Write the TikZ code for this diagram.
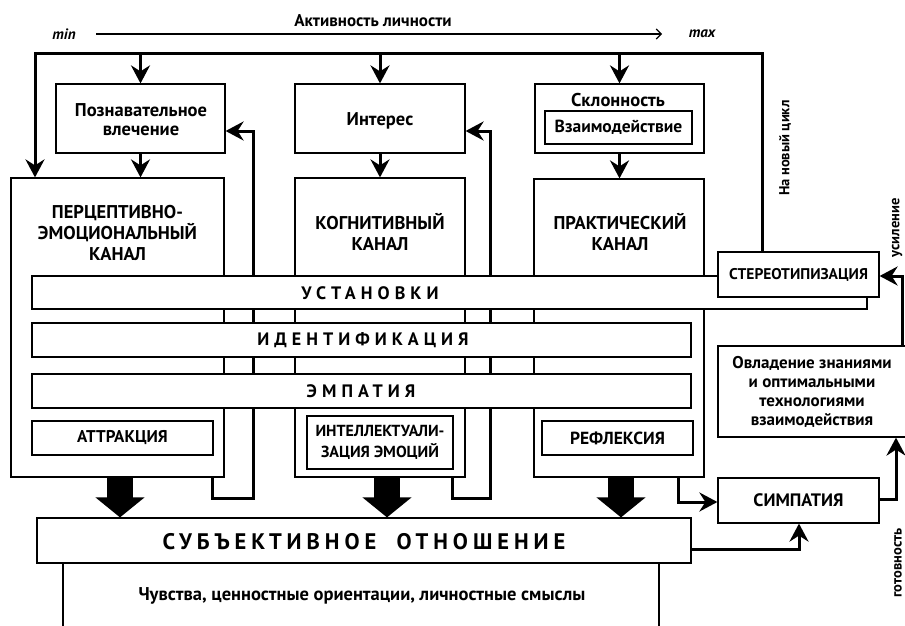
\documentclass[tikz,border=0pt]{standalone}
\usepackage{fontspec}
\setmainfont{PT Sans}
\newfontfamily\barfont[LetterSpace=28]{PT Sans}
\newfontfamily\subjfont[LetterSpace=22]{PT Sans}
\usetikzlibrary{arrows.meta}
\begin{document}
\begin{tikzpicture}[x=1pt,y=-1pt,
  boxs/.style={draw,line width=1.2pt,fill=white,inner sep=0pt,rectangle},
  thk/.style={line width=3pt},
  harr/.style={-{Stealth[length=18pt,width=19pt,inset=6pt]}},
  bigarr/.style={line width=26pt,-{Triangle[length=20pt,width=48pt]}},
  lbl/.style={inner sep=0pt,align=center,font=\bfseries\fontsize{18.5}{19}\selectfont},
  chan/.style={inner sep=0pt,align=center,font=\bfseries\fontsize{18.5}{21}\selectfont},
  barlbl/.style={inner sep=0pt,font=\barfont\bfseries\fontsize{18}{18}\selectfont},
  small/.style={inner sep=0pt,font=\bfseries\fontsize{14.5}{15}\selectfont},
  wide/.style={inner sep=0pt,align=center,font=\bfseries\fontsize{17}{19}\selectfont}]
\useasboundingbox (0,0) rectangle (905,626);
\fill[white] (0,0) rectangle (905,626);

% top scale
\node[inner sep=0pt,font=\bfseries\itshape\fontsize{15}{15}\selectfont] (mn) at (64,34) {min};
\node[inner sep=0pt,font=\bfseries\itshape\fontsize{15}{15}\selectfont] (mx) at (702,34) {max};
\coordinate (sa) at (96,34);
\coordinate (sb) at (662,34);
\draw[line width=1.1pt,-{Straight Barb[length=5pt,width=10pt]}] (sa) -- (sb);
\node[inner sep=0pt,font=\bfseries\fontsize{17}{17}\selectfont] (akt) at (373,21) {Активность личности};

% top boxes
\node[boxs,minimum width=169pt,minimum height=69pt] (pozn) at (140.5,118.5) {};
\node[lbl] (poznT) at (141,120) {Познавательное\\влечение};
\node[boxs,minimum width=170pt,minimum height=69pt] (inter) at (380,118.5) {};
\node[lbl] (interT) at (380,121) {Интерес};
\node[boxs,minimum width=169pt,minimum height=69pt] (sklon) at (619.5,118.5) {};
\node[lbl] (sklonT) at (618,100) {Склонность};
\node[boxs,minimum width=147pt,minimum height=33pt,font=\bfseries\fontsize{17.5}{17.5}\selectfont] (vzaim) at (618.5,127.5) {Взаимодействие};

% channels
\node[boxs,minimum width=213pt,minimum height=299pt] (perc) at (117.5,327.5) {};
\node[chan] (percT) at (117.5,233) {ПЕРЦЕПТИВНО-\\ЭМОЦИОНАЛЬНЫЙ\\КАНАЛ};
\node[boxs,minimum width=170pt,minimum height=299pt] (kogn) at (380,327.5) {};
\node[chan] (kognT) at (380,231.5) {КОГНИТИВНЫЙ\\КАНАЛ};
\node[boxs,minimum width=170pt,minimum height=298pt] (prakt) at (619,328) {};
\node[chan] (praktT) at (620,231.5) {ПРАКТИЧЕСКИЙ\\КАНАЛ};

% top frame and arrows
\coordinate (tl) at (35,54);
\coordinate (tr) at (762,54);
\node[boxs,minimum width=161pt,minimum height=45pt] (stereo) at (798.5,274.5) {};
\draw[thk,harr] (stereo.north -| tr) -- (tr) -- (tl) -- (perc.north -| tl);
\draw[thk,harr] (pozn.north |- tl) -- (pozn.north);
\draw[thk,harr] (inter.north |- tl) -- (inter.north);
\draw[thk,harr] (sklon.north |- tl) -- (sklon.north);
\draw[thk,harr] (pozn.south) -- (pozn.south |- perc.north);
\draw[thk,harr] (inter.south) -- (inter.south |- kogn.north);
\draw[thk,harr] (sklon.south) -- (sklon.south |- prakt.north);

% feedback lines
\coordinate (fa) at (212,498);
\coordinate (fb) at (253,131);
\draw[thk,harr] (perc.south -| fa) -- (fa) -| (fb) -- (pozn.east |- fb);
\coordinate (ga) at (452,498);
\coordinate (gb) at (490,131);
\draw[thk,harr] (kogn.south -| ga) -- (ga) -| (gb) -- (inter.east |- gb);

% bars
\node[boxs,minimum width=835pt,minimum height=33pt] (ustan) at (449.5,292.5) {};
\node[barlbl] (ustanT) at (370,293) {УСТАНОВКИ};
\node[boxs,minimum width=659pt,minimum height=34pt] (ident) at (361.5,340) {};
\node[barlbl] (identT) at (363,340.5) {ИДЕНТИФИКАЦИЯ};
\node[boxs,minimum width=659pt,minimum height=34pt] (empat) at (361.5,391) {};
\node[barlbl] (empatT) at (361,391.5) {ЭМПАТИЯ};

% stereotype box over the bar
\node[boxs,minimum width=161pt,minimum height=45pt,font=\bfseries\fontsize{15.5}{15.5}\selectfont] (stereo2) at (stereo) {СТЕРЕОТИПИЗАЦИЯ};

% inner boxes
\node[boxs,minimum width=181pt,minimum height=34pt,font=\bfseries\fontsize{17}{17}\selectfont] (attr) at (122.5,438) {АТТРАКЦИЯ};
\node[boxs,minimum width=146pt,minimum height=53pt,align=center,font=\bfseries\fontsize{16}{21}\selectfont] (intel) at (380,442.5) {ИНТЕЛЛЕКТУАЛИ-\\ЗАЦИЯ ЭМОЦИЙ};
\node[boxs,minimum width=151pt,minimum height=34pt,font=\bfseries\fontsize{17.5}{17.5}\selectfont] (refl) at (617.5,438) {РЕФЛЕКСИЯ};

% right boxes
\node[boxs,minimum width=190pt,minimum height=91pt] (ovlad) at (813,391.5) {};
\node[wide] (ovladT) at (812,392) {Овладение знаниями\\и оптимальными\\технологиями\\взаимодействия};
\node[boxs,minimum width=161pt,minimum height=45pt,font=\bfseries\fontsize{18}{18}\selectfont] (simp) at (798.5,500.5) {СИМПАТИЯ};

% bottom
\node[boxs,minimum width=596pt,minimum height=80pt,anchor=north] (lower) at (361,563) {};
\node[boxs,minimum width=654pt,minimum height=45pt] (subj) at (364,540.5) {};
\node[inner sep=0pt,font=\subjfont\bfseries\fontsize{22.5}{22.5}\selectfont] (subjT) at (364,541.5) {СУБЪЕКТИВНОЕ\hspace{0.9em}ОТНОШЕНИЕ};
\node[inner sep=0pt,font=\bfseries\fontsize{18.5}{18.5}\selectfont] (chuv) at (362,596) {Чувства, ценностные ориентации, личностные смыслы};

% big arrows
\coordinate (b1) at (120,0);
\coordinate (b2) at (387,0);
\coordinate (b3) at (621,0);
\draw[bigarr] (perc.south -| b1) -- (subj.north -| b1);
\draw[bigarr] (kogn.south -| b2) -- (subj.north -| b2);
\draw[bigarr] (prakt.south -| b3) -- (subj.north -| b3);

% right connectors
\coordinate (pr) at (678,502);
\draw[thk,harr] (prakt.south -| pr) -- (pr) -- (simp.west |- pr);
\coordinate (sj) at (799,549);
\draw[thk,harr] (subj.east |- sj) -- (sj) -- (simp.south -| sj);
\coordinate (sm) at (896,499);
\draw[thk,harr] (simp.east |- sm) -- (sm) -- (ovlad.south -| sm);
\coordinate (ov) at (902,276);
\draw[thk,harr] (ovlad.north -| ov) -- (ov) -- (stereo.east |- ov);

% rotated labels
\node[small,rotate=90] (cyc) at (785,148) {На новый цикл};
\node[small,rotate=90] (usil) at (897,228) {усиление};
\node[small,rotate=90] (got) at (898,563) {готовность};
\end{tikzpicture}
\end{document}
